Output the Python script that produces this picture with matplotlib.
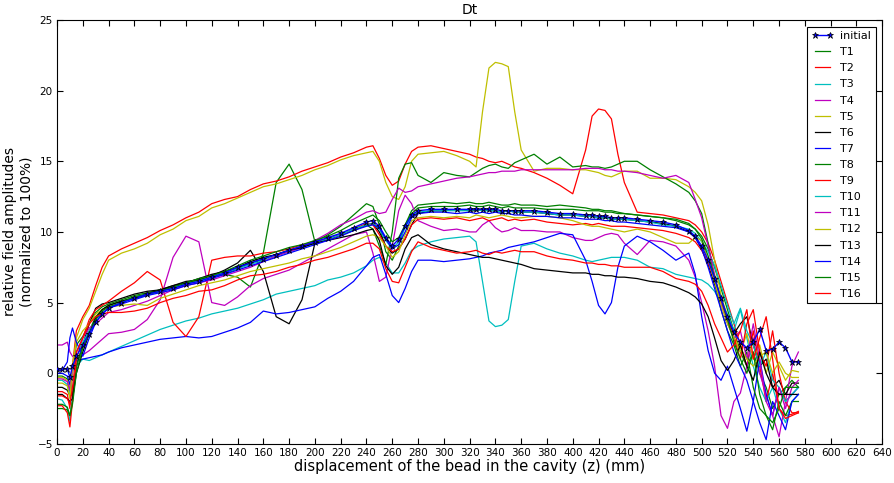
import matplotlib
matplotlib.use("Agg")
import matplotlib.pyplot as plt

# common abscissa (mm)
z_mm = [0, 4, 8, 10, 12, 15, 20, 25, 30, 35,
        40, 50, 60, 70, 80, 90, 100, 110, 120, 130,
        140, 150, 160, 170, 180, 190, 200, 210, 220, 230,
        240, 245, 250, 255, 260, 265, 270, 275, 280, 290,
        300, 310, 320, 325, 330, 335, 340, 345, 350, 355,
        360, 370, 380, 390, 400, 410, 415, 420, 425, 430,
        435, 440, 450, 460, 470, 480, 490, 495, 500, 505,
        510, 515, 520, 525, 530, 535, 540, 545, 550, 555,
        560, 565, 570, 575]

initial = [0.3, 0.3, 0.3, -0.3, 0.5, 1.2, 2.0, 2.8, 3.6, 4.2,
           4.6, 5.0, 5.3, 5.6, 5.8, 6.0, 6.3, 6.5, 6.8, 7.1,
           7.5, 7.8, 8.1, 8.4, 8.7, 9.0, 9.3, 9.6, 9.9, 10.3,
           10.7, 10.8, 10.4, 9.6, 9.0, 9.5, 10.4, 11.2, 11.5, 11.6,
           11.6, 11.6, 11.6, 11.6, 11.6, 11.6, 11.6, 11.5, 11.5, 11.5,
           11.5, 11.5, 11.4, 11.3, 11.3, 11.2, 11.2, 11.1, 11.1, 11.0,
           11.0, 11.0, 10.9, 10.8, 10.7, 10.5, 10.1, 9.7, 9.0, 8.0,
           6.7, 5.3, 4.0, 2.9, 2.2, 1.8, 2.2, 3.1, 1.6, 1.7,
           2.2, 1.8, 0.8, 0.8]

T1 = [-0.2, -0.2, -0.4, -1.5, 0.3, 2.0, 2.6, 3.5, 4.3, 4.7,
      4.9, 5.2, 5.5, 5.7, 5.9, 6.1, 6.4, 6.6, 6.9, 7.0,
      6.8, 6.1, 8.5, 13.5, 14.8, 13.0, 9.3, 9.8, 10.4, 11.2,
      12.0, 11.8, 10.5, 8.6, 8.0, 9.0, 10.5, 11.5, 11.9, 12.0,
      12.1, 12.0, 12.1, 12.0, 12.0, 12.1, 12.0, 11.9, 11.9, 12.0,
      11.9, 11.9, 11.8, 11.9, 11.8, 11.7, 11.6, 11.6, 11.5, 11.5,
      11.4, 11.3, 11.2, 11.1, 11.0, 10.8, 10.5, 10.2, 9.7, 8.8,
      7.5, 6.0, 4.5, 3.0, 1.5, 0.5, 1.5, 0.0, -1.0, -2.5,
      -1.5, -1.0, -0.5, -1.0]

T2 = [-1.3, -1.3, -1.5, -2.5, 0.5, 3.0, 4.0, 4.8, 6.2, 7.5,
      8.3, 8.8, 9.2, 9.6, 10.1, 10.5, 11.0, 11.4, 12.0, 12.3,
      12.5, 13.0, 13.4, 13.6, 13.9, 14.3, 14.6, 14.9, 15.3, 15.6,
      16.0, 16.1, 15.2, 14.0, 13.3, 13.6, 14.8, 15.7, 16.0, 16.1,
      15.9, 15.7, 15.5, 15.3, 15.2, 15.0, 14.9, 15.0, 14.8, 14.6,
      14.5, 14.2, 13.8, 13.3, 12.7, 15.8, 18.2, 18.7, 18.6, 18.0,
      15.5, 13.5, 11.4, 11.3, 11.2, 11.0, 10.8, 10.5, 10.0, 9.2,
      8.0, 6.5, 5.0, 3.5, 2.0, 0.5, 3.0, 0.5, -2.0, 0.0,
      -2.5, -3.0, -2.9, -2.7]

T3 = [-1.8, -1.9, -2.5, -3.4, -1.5, 0.5, 1.0, 0.9, 1.1, 1.3,
      1.5, 1.9, 2.3, 2.7, 3.1, 3.4, 3.7, 3.9, 4.2, 4.4,
      4.6, 4.9, 5.2, 5.6, 5.8, 6.0, 6.2, 6.6, 6.8, 7.1,
      7.6, 8.0, 8.2, 7.8, 7.1, 7.1, 7.8, 8.7, 9.0, 9.3,
      9.5, 9.6, 9.7, 9.3, 6.5, 3.7, 3.3, 3.4, 3.8, 6.5,
      9.0, 9.2, 8.8, 8.5, 8.3, 8.0, 7.9, 8.0, 8.1, 8.2,
      8.2, 8.2, 8.0, 7.5, 7.4, 7.0, 6.8, 6.7, 6.6, 6.3,
      5.8, 5.0, 4.2, 3.0, 4.5, 2.5, 0.5, -1.0, -2.0, -1.0,
      -2.5, -3.5, -2.0, -1.5]

T4 = [2.0, 2.0, 2.2, 1.5, 1.2, 1.0, 1.3, 1.6, 2.0, 2.4,
      2.8, 2.9, 3.1, 3.8, 5.2, 8.2, 9.7, 9.3, 5.0, 4.8,
      5.4, 6.2, 6.7, 7.0, 7.3, 7.8, 8.3, 8.8, 9.3, 9.8,
      10.0, 8.5, 6.5, 6.8, 9.0, 11.5, 12.6, 12.0, 10.8, 10.4,
      10.1, 10.2, 10.0, 10.0, 10.5, 10.8, 10.3, 10.0, 10.1, 10.3,
      10.1, 10.1, 10.0, 10.0, 9.6, 9.4, 9.4, 9.6, 9.8, 9.9,
      9.8, 9.2, 8.4, 9.4, 9.3, 9.0, 8.0, 6.8, 5.0, 3.0,
      0.5, -3.0, -3.9, -2.0, -1.4, 0.5, 2.5, 0.0, -1.5, -3.0,
      -4.5, -2.0, 0.5, 1.5]

T5 = [-0.3, -0.3, -0.5, -1.0, 0.5, 2.5, 3.8, 4.6, 5.8, 7.0,
      8.0, 8.5, 8.8, 9.2, 9.8, 10.2, 10.8, 11.1, 11.7, 12.0,
      12.4, 12.8, 13.2, 13.4, 13.7, 14.0, 14.4, 14.7, 15.1, 15.4,
      15.6, 15.7, 15.0, 13.5, 12.5, 12.3, 13.2, 15.0, 15.5, 15.6,
      15.7, 15.4, 15.0, 14.6, 18.5, 21.6, 22.0, 21.9, 21.7, 18.5,
      15.8, 14.3, 14.5, 14.5, 14.4, 14.4, 14.3, 14.2, 14.0, 13.9,
      14.1, 14.3, 14.3, 13.8, 13.8, 13.7, 13.2, 12.8, 12.2, 10.5,
      8.0, 5.5, 4.0, 2.5, 1.5, 2.8, 1.0, 2.0, 0.0, 1.5,
      0.5, -0.5, 0.2, 0.1]

T6 = [-1.0, -1.0, -1.2, -1.6, -1.5, 0.5, 2.0, 3.5, 4.6, 4.9,
      5.0, 5.3, 5.6, 5.8, 5.9, 6.2, 6.5, 6.6, 6.9, 7.3,
      7.8, 8.7, 7.2, 4.0, 3.5, 5.2, 9.2, 9.5, 9.8, 10.1,
      10.5, 10.6, 10.0, 9.0, 8.5, 8.8, 9.5, 10.5, 11.3, 11.5,
      11.5, 11.6, 11.5, 11.5, 11.6, 11.5, 11.5, 11.4, 11.5, 11.4,
      11.4, 11.4, 11.3, 11.2, 11.2, 11.1, 11.1, 11.0, 11.0, 10.9,
      10.9, 10.9, 10.8, 10.7, 10.6, 10.4, 10.0, 9.6, 8.8, 7.7,
      6.3, 5.0, 3.8, 2.8, 3.5, 4.0, 2.0, 0.5, 1.0, -1.0,
      -0.5, -1.5, -0.7, -0.7]

T7 = [0.0, 0.0, -0.2, -0.8, 0.3, 0.9, 1.0, 1.1, 1.2, 1.3,
      1.5, 1.8, 2.0, 2.2, 2.4, 2.5, 2.6, 2.5, 2.6, 2.9,
      3.2, 3.6, 4.4, 4.2, 4.3, 4.5, 4.7, 5.3, 5.8, 6.5,
      7.6, 8.2, 8.4, 7.0, 5.5, 5.0, 6.0, 7.2, 8.0, 8.0,
      7.9, 8.0, 8.1, 8.2, 8.3, 8.5, 8.6, 8.7, 8.9, 9.0,
      9.1, 9.3, 9.6, 9.9, 9.8, 8.0, 6.5, 4.8, 4.2, 5.0,
      7.5, 9.0, 9.7, 9.3, 8.7, 8.0, 8.5, 7.0, 4.0, 1.6,
      0.0, -0.5, 0.5, -1.0, -2.5, -4.1, -2.0, 1.0, -1.5, -3.0,
      -1.0, -2.0, -1.5, -1.0]

T8 = [-2.5, -2.5, -2.6, -3.0, -2.0, 0.5, 2.0, 3.0, 4.0, 4.5,
      4.8, 5.1, 5.4, 5.6, 5.9, 6.0, 6.3, 6.6, 6.8, 7.0,
      7.4, 7.8, 8.1, 8.4, 8.7, 9.0, 9.2, 9.5, 9.8, 10.1,
      10.5, 10.2, 9.0, 7.7, 10.0, 13.8, 14.8, 14.9, 14.0, 13.5,
      14.2, 14.0, 13.9, 14.2, 14.5, 14.7, 14.8, 14.6, 14.5, 14.9,
      15.1, 15.5, 14.8, 15.3, 14.6, 14.7, 14.6, 14.6, 14.5, 14.6,
      14.8, 15.0, 15.0, 14.4, 13.9, 13.4, 12.8, 12.2, 11.3, 9.2,
      6.5, 4.5, 3.0, 2.0, 0.5, 1.5, -1.0, -2.5, -3.0, -4.0,
      -2.0, -3.0, -2.0, -2.0]

T9 = [-2.3, -2.3, -2.8, -3.8, -2.0, 1.0, 2.5, 3.8, 4.5, 4.8,
      5.1, 5.8, 6.4, 7.2, 6.6, 3.6, 2.6, 4.0, 8.0, 8.2,
      8.3, 8.3, 8.5, 8.6, 8.8, 9.1, 9.3, 9.5, 9.8, 10.2,
      10.6, 10.5, 9.8, 9.0, 8.6, 8.8, 9.5, 10.5, 10.9, 11.0,
      10.9, 11.0, 10.8, 10.9, 11.0, 10.8, 10.9, 11.0, 10.8, 10.9,
      10.8, 10.9, 10.7, 10.6, 10.5, 10.6, 10.5, 10.6, 10.5, 10.4,
      10.4, 10.4, 10.3, 10.2, 10.1, 9.9, 9.6, 9.3, 8.7, 7.8,
      6.6, 5.2, 3.8, 2.5, 1.0, 3.5, 4.5, 1.5, 0.5, 3.0,
      0.0, -2.0, -2.8, -2.8]

T10 = [-0.5, -0.5, -0.8, -1.5, 0.0, 1.5, 2.2, 3.0, 3.8, 4.3,
       4.6, 5.0, 5.3, 5.5, 5.8, 6.0, 6.3, 6.5, 6.8, 7.1,
       7.4, 7.7, 8.0, 8.3, 8.6, 8.9, 9.2, 9.5, 9.8, 10.2,
       10.5, 10.6, 10.2, 9.4, 8.8, 9.3, 10.3, 11.1, 11.4, 11.5,
       11.5, 11.5, 11.5, 11.6, 11.5, 11.5, 11.5, 11.4, 11.5, 11.4,
       11.4, 11.4, 11.3, 11.2, 11.2, 11.1, 11.1, 11.0, 11.0, 10.9,
       10.9, 10.9, 10.8, 10.7, 10.5, 10.4, 10.2, 9.9, 9.3, 8.6,
       7.6, 6.2, 4.8, 3.5, 4.6, 3.0, 2.0, 0.5, 1.5, -0.5,
       -1.0, -2.0, -1.5, -1.0]

T11 = [-0.4, -0.4, -0.6, -1.2, 0.2, 1.5, 2.5, 3.2, 3.5, 3.9,
       4.3, 4.5, 4.8, 5.1, 5.5, 5.9, 6.2, 6.4, 6.6, 6.9,
       7.2, 7.5, 7.9, 8.3, 8.6, 8.9, 9.4, 9.9, 10.5, 10.9,
       11.4, 11.5, 11.3, 11.4, 12.3, 13.1, 12.8, 12.9, 13.2, 13.4,
       13.6, 13.8, 13.9, 14.0, 14.1, 14.2, 14.2, 14.3, 14.3, 14.3,
       14.4, 14.4, 14.4, 14.4, 14.4, 14.5, 14.5, 14.5, 14.4, 14.4,
       14.3, 14.3, 14.2, 14.0, 13.8, 14.0, 13.5, 12.3, 11.0, 9.0,
       7.0, 5.0, 3.5, 2.5, 3.0, 1.0, 3.5, 1.0, -2.0, -3.0,
       -1.0, -2.5, -1.0, -0.5]

T12 = [-0.7, -0.7, -0.9, -1.8, 0.5, 2.2, 3.0, 3.5, 4.2, 4.5,
       4.7, 4.8, 4.9, 4.8, 5.3, 5.6, 5.9, 6.2, 6.4, 6.6,
       6.9, 7.2, 7.4, 7.6, 7.8, 8.1, 8.3, 8.6, 8.9, 9.3,
       9.7, 9.8, 9.6, 9.0, 8.2, 8.6, 9.8, 10.8, 11.0, 11.1,
       11.0, 11.1, 11.0, 11.2, 11.1, 11.0, 11.1, 11.2, 11.1, 11.0,
       11.0, 11.1, 11.1, 11.0, 10.8, 10.5, 10.4, 10.4, 10.3, 10.2,
       10.1, 10.0, 10.2, 10.0, 9.6, 9.2, 9.2, 9.6, 9.4, 8.0,
       6.5, 4.8, 3.5, 2.5, 1.8, 1.0, 0.5, 1.2, 1.5, 0.0,
       0.8, 0.0, -0.3, -0.3]

T13 = [-1.5, -1.5, -1.8, -2.0, -1.8, 0.0, 1.5, 2.8, 3.9, 4.5,
       4.8, 5.1, 5.3, 5.6, 5.9, 6.2, 6.4, 6.7, 7.0, 7.2,
       7.5, 7.9, 8.2, 8.4, 8.7, 8.9, 9.2, 9.4, 9.6, 9.8,
       10.1, 10.2, 9.4, 7.6, 7.0, 7.5, 8.8, 9.6, 9.8, 9.1,
       8.8, 8.6, 8.4, 8.3, 8.2, 8.2, 8.1, 8.0, 7.9, 7.8,
       7.7, 7.4, 7.3, 7.2, 7.1, 7.1, 7.0, 7.0, 6.9, 6.9,
       6.8, 6.8, 6.7, 6.5, 6.4, 6.1, 5.7, 5.4, 4.9, 4.0,
       2.5, 0.9, 0.2, 0.9, 2.0, 0.5, -0.5, 1.5, 0.0, -1.0,
       -1.5, -1.5, -1.5, -1.5]

T14 = [0.2, 0.2, 0.8, 2.5, 3.2, 2.2, 1.2, 2.5, 3.6, 4.2,
       4.6, 4.9, 5.2, 5.5, 5.7, 5.9, 6.2, 6.4, 6.7, 7.0,
       7.3, 7.6, 7.9, 8.2, 8.5, 8.8, 9.1, 9.4, 9.7, 10.1,
       10.4, 10.5, 10.3, 9.5, 8.8, 9.1, 10.0, 11.0, 11.3, 11.4,
       11.4, 11.3, 11.4, 11.3, 11.4, 11.3, 11.4, 11.3, 11.3, 11.2,
       11.2, 11.1, 11.1, 11.0, 11.0, 10.9, 10.9, 10.9, 10.8, 10.8,
       10.7, 10.7, 10.6, 10.5, 10.4, 10.3, 10.0, 9.6, 8.8, 7.5,
       6.0, 4.5, 3.0, 1.5, 0.5, -0.5, -2.0, -3.5, -4.7, -2.0,
       -3.0, -4.0, -2.0, -1.5]

T15 = [-2.2, -2.2, -2.4, -3.0, -2.2, 0.0, 1.8, 2.8, 3.8, 4.4,
       4.7, 5.0, 5.4, 5.6, 5.8, 6.1, 6.4, 6.7, 6.9, 7.2,
       7.6, 8.0, 8.3, 8.6, 8.9, 9.1, 9.4, 9.7, 10.1, 10.6,
       11.0, 11.2, 10.8, 10.0, 9.3, 9.6, 10.5, 11.3, 11.7, 11.8,
       11.8, 11.8, 11.9, 11.8, 11.8, 11.9, 11.8, 11.7, 11.8, 11.7,
       11.7, 11.7, 11.6, 11.6, 11.6, 11.5, 11.5, 11.5, 11.4, 11.4,
       11.3, 11.3, 11.2, 11.1, 11.0, 10.9, 10.6, 10.2, 9.5, 8.3,
       6.8, 5.3, 3.8, 2.2, 1.0, 0.0, 1.5, -1.5, -3.0, -3.5,
       -2.5, -1.0, -1.0, -1.0]

T16 = [-1.6, -1.6, -1.8, -2.2, -1.0, 1.5, 2.5, 3.5, 4.0, 4.2,
       4.3, 4.3, 4.4, 4.6, 5.0, 5.3, 5.5, 5.8, 5.9, 6.2,
       6.6, 6.9, 7.0, 7.2, 7.5, 7.7, 8.0, 8.2, 8.5, 8.8,
       9.2, 9.2, 8.8, 7.4, 6.5, 6.4, 7.5, 8.6, 9.3, 8.9,
       8.7, 8.5, 8.6, 8.7, 8.5, 8.4, 8.6, 8.5, 8.6, 8.7,
       8.6, 8.6, 8.3, 8.1, 8.0, 7.8, 7.8, 7.7, 7.7, 7.6,
       7.6, 7.5, 7.5, 7.5, 7.2, 6.7, 6.5, 6.3, 5.8, 4.8,
       3.5, 2.5, 1.5, 2.0, 3.0, 4.5, 1.0, 2.5, 4.0, 1.0,
       -2.5, -3.2, -3.0, -2.8]

labels = ["T%d" % i for i in range(1, 17)]
series = [T1, T2, T3, T4, T5, T6, T7, T8, T9, T10, T11, T12, T13, T14, T15, T16]
cycle = [(0, 0.5, 0), (1, 0, 0), (0, 0.75, 0.75), (0.75, 0, 0.75),
         (0.75, 0.75, 0), (0, 0, 0), (0, 0, 1)]

fig = plt.figure(figsize=(8.95, 4.83), dpi=100, facecolor="white")
ax = fig.add_axes([0.0637, 0.081, 0.922, 0.8776])

ax.plot(z_mm, initial, "*-", color="b", mec="k", mew=0.5, ms=5, lw=1.0,
        label="initial", zorder=3)
for i, (lab, ys) in enumerate(zip(labels, series)):
    ax.plot(z_mm, ys, "-", color=cycle[i % 7], lw=0.9, label=lab, zorder=2)

ax.set_xlim(0, 640)
ax.set_ylim(-5, 25)
ax.set_xticks(range(0, 641, 20))
ax.set_yticks(range(-5, 26, 5))
ax.tick_params(direction="in", top=True, right=True, labelsize=7.5, length=4, pad=3)
ax.set_title("Dt", fontsize=10, pad=4)
ax.set_xlabel("displacement of the bead in the cavity (z) (mm)", fontsize=10.5, labelpad=1)
ax.set_ylabel("relative field amplitudes\n(normalized to 100%)", fontsize=10, labelpad=3)

leg = ax.legend(loc="upper right", fontsize=8, numpoints=2, handlelength=2.0,
                handletextpad=0.6, fancybox=False, framealpha=1, edgecolor="k",
                borderaxespad=0.6, labelspacing=0.55)
leg.get_frame().set_linewidth(0.8)

fig.savefig("out.png", dpi=100, facecolor="white")
